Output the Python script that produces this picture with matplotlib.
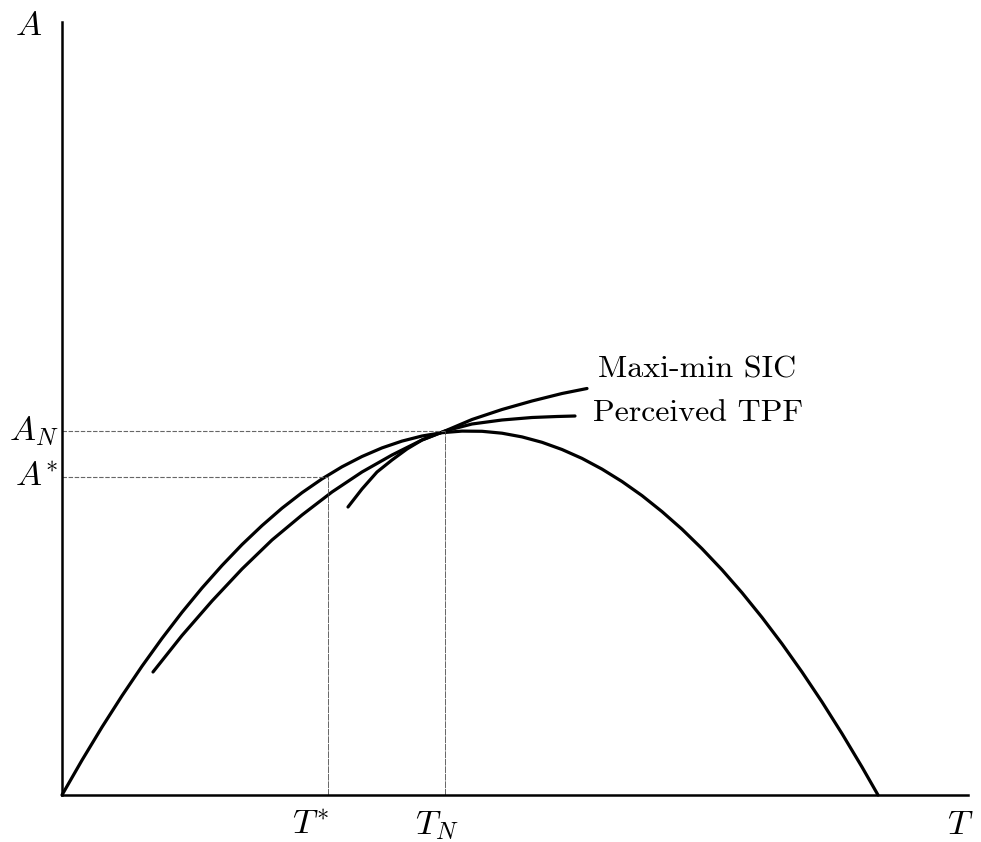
import matplotlib.pyplot as plt

plt.rcParams['mathtext.fontset'] = 'cm'

# technology possibility frontier (T, A)
tpf_T = [0.0, 0.2, 0.4, 0.6, 0.8, 1.0, 1.2, 1.4, 1.6, 1.8, 2.0, 2.2, 2.4, 2.6,
         2.8, 3.0, 3.2, 3.4, 3.6, 3.8, 4.0, 4.2, 4.4, 4.6, 4.8, 5.0, 5.2, 5.4,
         5.6, 5.8, 6.0, 6.2, 6.4, 6.6, 6.8, 7.0, 7.2, 7.4, 7.6, 7.8, 8.0, 8.16]
tpf_A = [0.0, 0.348, 0.679, 0.992, 1.288, 1.566, 1.827, 2.070, 2.295, 2.504,
         2.694, 2.868, 3.023, 3.161, 3.282, 3.385, 3.471, 3.539, 3.590, 3.623,
         3.639, 3.637, 3.618, 3.581, 3.527, 3.455, 3.366, 3.259, 3.135, 2.994,
         2.834, 2.658, 2.463, 2.252, 2.023, 1.776, 1.512, 1.230, 0.931, 0.614,
         0.280, 0.0]

# maxi-min social indifference curve
sic_T = [0.91, 1.2, 1.5, 1.8, 2.1, 2.4, 2.7, 3.0, 3.3, 3.6, 3.83, 4.1, 4.4,
         4.7, 5.0, 5.25]
sic_A = [1.23, 1.595, 1.94, 2.26, 2.55, 2.80, 3.03, 3.23, 3.40, 3.55, 3.64,
         3.755, 3.855, 3.94, 4.015, 4.065]

# perceived frontier
ptpf_T = [2.86, 3.0, 3.15, 3.3, 3.45, 3.6, 3.83, 4.1, 4.4, 4.7, 4.95, 5.13]
ptpf_A = [2.88, 3.06, 3.23, 3.35, 3.46, 3.55, 3.64, 3.71, 3.75, 3.775, 3.785,
          3.79]

T_N, A_N = 3.83, 3.64
T_star, A_star = 2.66, 3.18

fig = plt.figure(figsize=(9.81, 8.42), dpi=100)
ax = fig.add_axes([62 / 981, 47 / 842, 906 / 981, 773 / 842])
ax.set_xlim(0, 9.06)
ax.set_ylim(0, 7.73)
for s in ['top', 'right']:
    ax.spines[s].set_visible(False)
for s in ['left', 'bottom']:
    ax.spines[s].set_linewidth(1.8)
ax.set_xticks([])
ax.set_yticks([])

lw = 2.3
ax.plot(tpf_T, tpf_A, color='black', lw=lw, solid_capstyle='round',
        solid_joinstyle='round', clip_on=False)
ax.plot(sic_T, sic_A, color='black', lw=lw, solid_capstyle='round',
        solid_joinstyle='round')
ax.plot(ptpf_T, ptpf_A, color='black', lw=lw, solid_capstyle='round',
        solid_joinstyle='round')

# guide lines
ax.plot([0, T_N], [A_N, A_N], color='0.4', lw=0.8, dashes=(4, 1.5))
ax.plot([0, T_star], [A_star, A_star], color='0.4', lw=0.8, dashes=(4, 1.5))
ax.plot([T_N, T_N], [0, A_N], color='0.3', lw=0.6, dashes=(8, 1))
ax.plot([T_star, T_star], [0, A_star], color='0.3', lw=0.6, dashes=(8, 1))

fs = 25
ax.text(-0.33, 7.70, r'$A$', fontsize=fs, ha='center', va='center', clip_on=False)
ax.text(-0.28, 3.64, r'$A_N$', fontsize=fs, ha='center', va='center', clip_on=False)
ax.text(-0.26, 3.18, r'$A^{*}$', fontsize=fs, ha='center', va='center', clip_on=False)
ax.text(T_star - 0.18, -0.30, r'$T^{*}$', fontsize=fs, ha='center', va='center', clip_on=False)
ax.text(T_N - 0.08, -0.30, r'$T_N$', fontsize=fs, ha='center', va='center', clip_on=False)
ax.text(8.98, -0.29, r'$T$', fontsize=fs, ha='center', va='center', clip_on=False)

ax.text(5.36, 4.25, 'Maxi-min SIC', fontsize=23, family='cmr10', ha='left', va='center')
ax.text(5.31, 3.82, 'Perceived TPF', fontsize=23, family='cmr10', ha='left', va='center')

fig.savefig('out.png', dpi=100)
